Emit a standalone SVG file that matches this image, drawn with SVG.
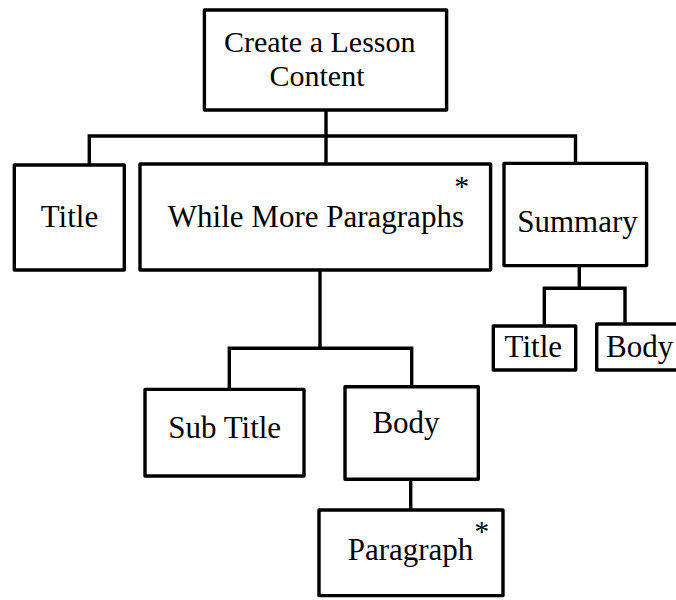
<svg xmlns="http://www.w3.org/2000/svg" width="676" height="600" viewBox="0 0 676 600">
  <style>
    .box { fill: #ffffff; stroke: #000000; stroke-width: 3.4; stroke-linejoin: round; }
    .wire { fill: none; stroke: #000000; stroke-width: 3.4; stroke-linejoin: miter; }
    .label { font-family: "Liberation Serif", "Times New Roman", serif; font-size: 31px; fill: #000000; text-anchor: middle; }
    .head { font-size: 30px; }
    .star { font-family: "Liberation Serif", "Times New Roman", serif; font-size: 30px; fill: #000000; text-anchor: middle; }
  </style>

  <!-- tree connectors -->
  <g id="connectors">
    <path class="wire" d="M326 110 V136 M89.3 165 V136 H575.5 V163.4 M326 136 V164"/>
    <path class="wire" d="M579.3 265.6 V288.3 M544.3 326 V288.3 H625 V324"/>
    <path class="wire" d="M320 270 V348.3 M229.3 389.4 V348.3 H411.7 V386.7"/>
    <path class="wire" d="M410.7 479.3 V510"/>
  </g>

  <g id="lesson-content">
    <rect class="box" x="204.4" y="10" width="242.2" height="100"/>
    <text class="label head" x="319.7" y="52">Create a Lesson</text>
    <text class="label head" x="317" y="85.5">Content</text>
  </g>

  <g id="title">
    <rect class="box" x="14.3" y="165" width="110" height="105"/>
    <text class="label" x="69.5" y="226.7">Title</text>
  </g>

  <g id="while-more-paragraphs">
    <rect class="box" x="140" y="164" width="350.6" height="106"/>
    <text class="label" x="315.9" y="227">While More Paragraphs</text>
    <text class="star" x="461.7" y="195.5">*</text>
  </g>

  <g id="summary">
    <rect class="box" x="504" y="163.4" width="142.6" height="102.2"/>
    <text class="label" x="577.5" y="231.7">Summary</text>
  </g>

  <g id="summary-title">
    <rect class="box" x="493.3" y="326" width="82.4" height="44"/>
    <text class="label" x="533.3" y="357.3">Title</text>
  </g>

  <g id="summary-body">
    <rect class="box" x="596.7" y="324" width="100" height="46"/>
    <text class="label" x="639.7" y="356.7">Body</text>
  </g>

  <g id="sub-title">
    <rect class="box" x="145" y="389.4" width="159" height="86.6"/>
    <text class="label" x="224.7" y="438.3">Sub Title</text>
  </g>

  <g id="body">
    <rect class="box" x="345" y="386.7" width="133.3" height="92.6"/>
    <text class="label" x="406" y="433.3">Body</text>
  </g>

  <g id="paragraph">
    <rect class="box" x="319" y="510" width="184" height="85.6"/>
    <text class="label" x="410.5" y="560">Paragraph</text>
    <text class="star" x="481.7" y="540.5">*</text>
  </g>
</svg>
